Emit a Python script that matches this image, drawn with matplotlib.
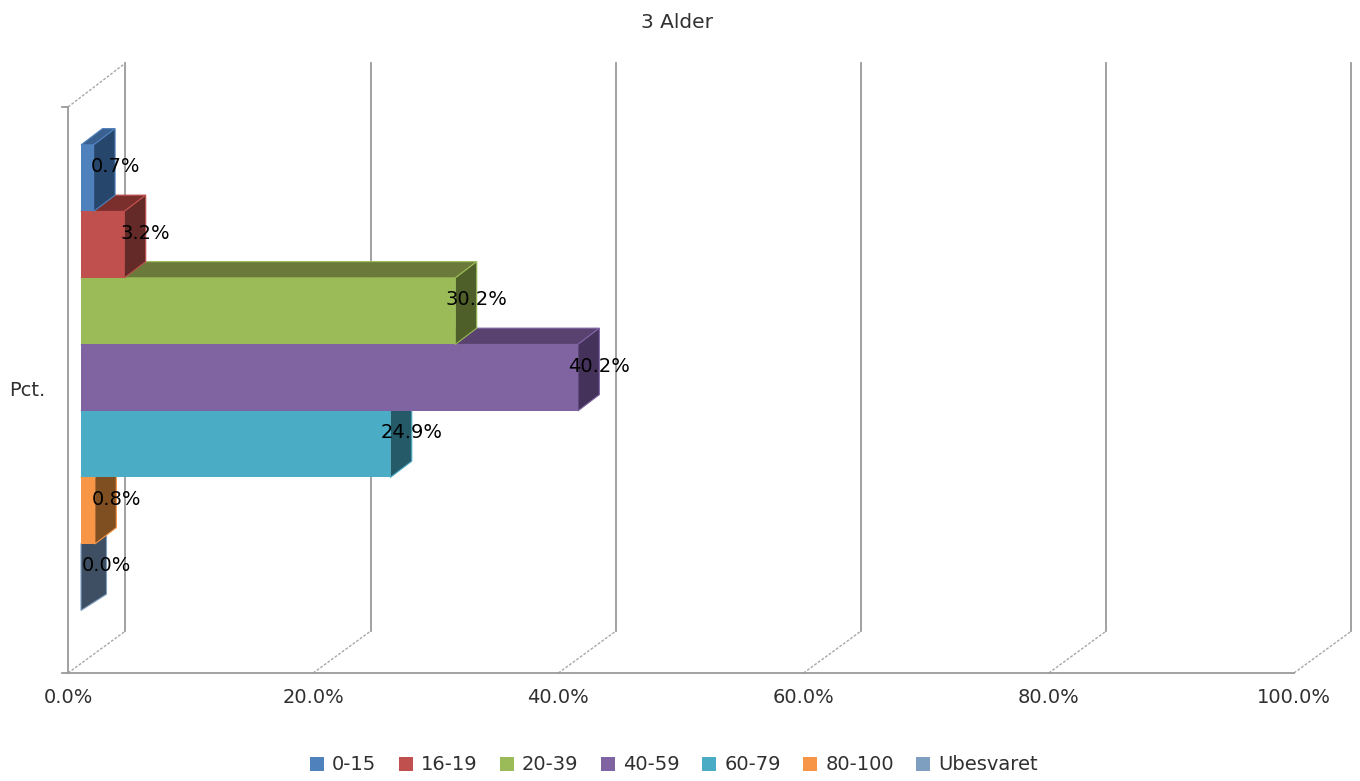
import matplotlib
matplotlib.use("Agg")
import matplotlib.pyplot as plt
from matplotlib.patches import Patch

plt.rcParams['font.family'] = ['DejaVu Sans']

categories = ['0-15', '16-19', '20-39', '40-59', '60-79', '80-100', 'Ubesvaret']
values = [0.7, 3.2, 30.2, 40.2, 24.9, 0.8, 0.0]
labels = ['0.7%', '3.2%', '30.2%', '40.2%', '24.9%', '0.8%', '0.0%']
front_colors = ['#4f81bd', '#c0504d', '#9bbb59', '#8064a2', '#4bacc6', '#f79646', '#7f9fc0']
top_colors = ['#3a6090', '#7a2f2d', '#6b7a3a', '#5a4270', '#2f7386', '#a8642c', '#55697f']
side_colors = ['#27466b', '#632a28', '#4f5f2a', '#44325a', '#255a68', '#7f4f22', '#3f4f63']
x_ticks = [0, 20, 40, 60, 80, 100]
x_labels = ['0.0%', '20.0%', '40.0%', '60.0%', '80.0%', '100.0%']

W, H = 1360, 781
GRID = '#9a9a9a'
TEXT = '#303030'

fig = plt.figure(figsize=(W / 100, H / 100), dpi=100)
# axes box = front plane of the fake 3d chart, 0%..100% and the seven bar rows
ax = fig.add_axes([68 / W, 1 - 673 / H, (1294 - 68) / W, (673 - 107) / H])
ax.set_xlim(0, 100)
ax.set_ylim(7.44, -1.07)

# depth of the floor/walls and of the bars, in data units
wall_dx, wall_dy, wall_top_dy = 4.68, -0.63, -0.66
bar_dx, bar_dy = 1.75, -0.245
bar_left = 1.06
bar_base = 1.39

ax.spines['top'].set_visible(False)
ax.spines['right'].set_visible(False)
ax.spines['left'].set_color(GRID)
ax.spines['bottom'].set_color(GRID)
ax.spines['left'].set_linewidth(1.3)
ax.spines['bottom'].set_linewidth(1.3)

ax.set_xticks(x_ticks)
ax.set_xticklabels(x_labels, fontsize=14, color=TEXT)
ax.tick_params(axis='x', length=0, pad=11)
ax.set_yticks([3.16])
ax.set_yticklabels(['Pct.'], fontsize=14, color=TEXT)
ax.tick_params(axis='y', length=0, pad=16)

# back wall lines and the dashed floor diagonals
y_low, y_high = ax.get_ylim()
for t in x_ticks:
    ax.plot([t + wall_dx, t + wall_dx], [y_low + wall_dy, y_high + wall_top_dy],
            color=GRID, lw=1.3, clip_on=False, zorder=1)
    ax.plot([t, t + wall_dx], [y_low, y_low + wall_dy],
            color='#a8a8a8', lw=1, ls=(0, (2, 1.2)), clip_on=False, zorder=1)
ax.plot([0, wall_dx], [y_high, y_high + wall_top_dy],
        color='#a8a8a8', lw=1, ls=(0, (2, 1.2)), clip_on=False, zorder=1)
# little stubs left of the corners
ax.plot([-0.5, 0], [y_high, y_high], color=GRID, lw=1.3, clip_on=False, zorder=1)
ax.plot([-0.5, 0], [y_low, y_low], color=GRID, lw=1.3, clip_on=False, zorder=1)

# lower bars first, the side of each bar sits over the top of the next one
z = 3
for i in range(len(values) - 1, -1, -1):
    right = bar_base + values[i]
    # an empty bar has no front, only the dark side is left
    front = right if values[i] > 0 else bar_left
    y0, y1 = i - 0.5, i + 0.5
    edge = front_colors[i]
    ax.fill([bar_left, right, right + bar_dx, bar_left + bar_dx],
            [y0, y0, y0 + bar_dy, y0 + bar_dy],
            facecolor=top_colors[i], edgecolor=edge, lw=0.8, zorder=z)
    ax.fill([front, right + bar_dx, right + bar_dx, front],
            [y0, y0 + bar_dy, y1 + bar_dy, y1],
            facecolor=side_colors[i], edgecolor=edge, lw=0.8, zorder=z)
    ax.barh(i, front - bar_left, height=1, left=bar_left, color=front_colors[i],
            zorder=z)
    z += 1

for i in range(len(values)):
    ax.text(bar_base + values[i] + bar_dx, i - 0.17, labels[i], fontsize=14,
            color='black', ha='center', va='center', zorder=20)

fig.text(677 / W, 1 - 22 / H, '3 Alder', fontsize=14.5, color=TEXT, ha='center', va='center')

handles = [Patch(facecolor=c, edgecolor='none') for c in front_colors]
fig.legend(handles, categories, loc='center', bbox_to_anchor=(674 / W, 1 - 765 / H),
           ncol=7, frameon=False, fontsize=14, labelcolor=TEXT,
           handlelength=0.72, handleheight=0.72, handletextpad=0.42, columnspacing=1.15)

fig.savefig('out.png', dpi=100, facecolor='white')
